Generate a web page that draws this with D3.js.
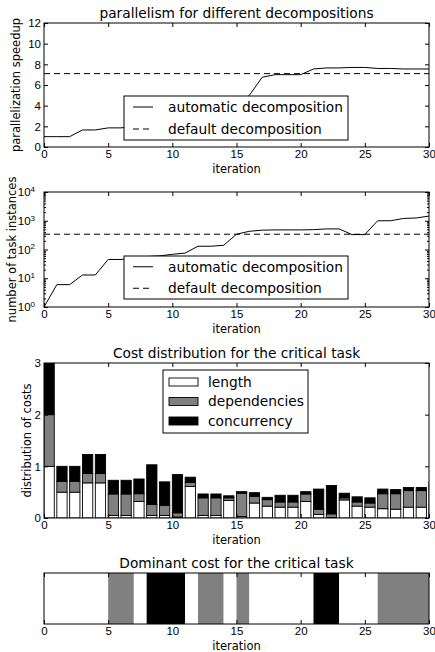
<!DOCTYPE html>
<html>
<head>
<meta charset="utf-8">
<script src="https://cdn.jsdelivr.net/npm/d3@7"></script>
<style>
  body { margin: 0; background: #fff; }
  svg { display: block; font-family: "DejaVu Sans", sans-serif; }
  .tick text { font-size: 11.5px; fill: #000; }
  .tick line { stroke: #000; }
  .title { font-size: 13.75px; }
  .label { font-size: 11.5px; }
  .legend text { font-size: 13.75px; }
</style>
</head>
<body>
<svg id="fig" width="435" height="652"></svg>
<script>
// ---- data ----
const iterations = [0, 1, 2, 3, 4, 5, 6, 7, 8, 9, 10, 11, 12, 13, 14, 15, 16, 17, 18, 19, 20, 21, 22, 23, 24, 25, 26, 27, 28, 29, 30];
const xTicks = [0, 5, 10, 15, 20, 25, 30];

const speedupAuto = [1.0, 1.0, 1.0, 1.65, 1.65, 1.85, 1.85, 2.0, 2.1, 2.2, 2.4, 2.6, 3.0, 3.1, 3.3, 4.0, 5.0, 6.75, 7.0, 7.0, 7.0, 7.55, 7.65, 7.65, 7.7, 7.7, 7.6, 7.6, 7.55, 7.55, 7.55];
const speedupDefault = 7.1;
const speedupTicks = [0, 2, 4, 6, 8, 10, 12];

const tasksAuto = [1, 6, 6, 13, 13, 45, 45, 50, 57, 60, 68, 75, 130, 130, 140, 340, 430, 470, 480, 480, 480, 490, 520, 520, 330, 330, 1000, 1000, 1200, 1250, 1450];
const tasksDefault = 340;
const tasksTicks = [1, 10, 100, 1000, 10000];

const costLength = [1.0, 0.50, 0.50, 0.68, 0.68, 0.05, 0.05, 0.32, 0.05, 0.05, 0.02, 0.61, 0.05, 0.05, 0.34, 0.03, 0.29, 0.23, 0.21, 0.21, 0.32, 0.07, 0.01, 0.35, 0.23, 0.21, 0.18, 0.17, 0.21, 0.21, 0.25];
const costDeps = [1.0, 0.21, 0.21, 0.18, 0.18, 0.415, 0.415, 0.15, 0.21, 0.195, 0.08, 0.08, 0.34, 0.34, 0.05, 0.45, 0.13, 0.125, 0.10, 0.10, 0.145, 0.10, 0.07, 0.04, 0.08, 0.08, 0.29, 0.30, 0.32, 0.32, 0.30];
const costConc = [1.0, 0.29, 0.29, 0.37, 0.37, 0.265, 0.265, 0.285, 0.77, 0.455, 0.74, 0.10, 0.075, 0.075, 0.04, 0.03, 0.07, 0.045, 0.13, 0.13, 0.045, 0.39, 0.55, 0.09, 0.10, 0.10, 0.09, 0.08, 0.06, 0.06, 0.15];
const costTicks = [0, 1, 2, 3];
const costKeys = ["length", "dependencies", "concurrency"];
const costColors = ["#ffffff", "#808080", "#000000"];

const dominant = ["length", "length", "length", "length", "length", "dependencies", "dependencies", "length",
  "concurrency", "concurrency", "concurrency", "length", "dependencies", "dependencies", "length", "dependencies",
  "length", "length", "length", "length", "length", "concurrency", "concurrency", "length", "length", "length",
  "dependencies", "dependencies", "dependencies", "dependencies"];

// ---- layout ----
const left = 44, right = 429, midX = (left + right) / 2;
const svg = d3.select("#fig");
const x = d3.scaleLinear().domain([0, 30]).range([left, right]);
const color = d3.scaleOrdinal().domain(costKeys).range(costColors);

function makePanel(id, top, bottom, title) {
  const g = svg.append("g");
  g.append("clipPath").attr("id", id)
    .append("rect").attr("x", left).attr("y", top).attr("width", right - left).attr("height", bottom - top);
  g.append("text").attr("class", "title").attr("x", midX).attr("y", top - 5)
    .attr("text-anchor", "middle").text(title);
  return g;
}

function xAxes(g, top, bottom) {
  g.append("g").attr("transform", `translate(0,${bottom})`)
    .call(d3.axisBottom(x).tickValues(xTicks).tickSizeInner(-4).tickSizeOuter(0).tickPadding(3))
    .call((a) => a.select(".domain").remove());
  g.append("g").attr("transform", `translate(0,${top})`)
    .call(d3.axisTop(x).tickValues(xTicks).tickSizeInner(-4).tickSizeOuter(0).tickFormat(""))
    .call((a) => a.select(".domain").remove());
  g.append("text").attr("class", "label").attr("x", midX).attr("y", bottom + 26)
    .attr("text-anchor", "middle").text("iteration");
}

function yAxes(g, y, ticks, fmt, size) {
  const s = size || 4;
  const l = g.append("g").attr("transform", `translate(${left},0)`)
    .call(d3.axisLeft(y).tickValues(ticks).tickSizeInner(-s).tickSizeOuter(0).tickPadding(3).tickFormat(fmt))
    .call((a) => a.select(".domain").remove());
  g.append("g").attr("transform", `translate(${right},0)`)
    .call(d3.axisRight(y).tickValues(ticks).tickSizeInner(-s).tickSizeOuter(0).tickFormat(""))
    .call((a) => a.select(".domain").remove());
  return l;
}

function frame(g, top, bottom) {
  g.append("rect").attr("x", left).attr("y", top).attr("width", right - left).attr("height", bottom - top)
    .attr("fill", "none").attr("stroke", "#000").attr("stroke-width", 1);
}

function yLabel(g, cx, top, bottom, text) {
  g.append("text").attr("class", "label")
    .attr("transform", `translate(${cx},${(top + bottom) / 2}) rotate(-90)`)
    .attr("dy", "0.35em").attr("text-anchor", "middle").text(text);
}

function lineLegend(g, x0, x1, y0, y1, rows) {
  const lg = g.append("g").attr("class", "legend");
  lg.append("rect").attr("x", x0).attr("y", y0).attr("width", x1 - x0).attr("height", y1 - y0)
    .attr("fill", "#fff").attr("stroke", "#000");
  const step = (y1 - y0) / rows.length;
  rows.forEach((r, i) => {
    const cy = y0 + step * (i + 0.5);
    lg.append("line").attr("x1", x0 + 9).attr("x2", x0 + 29).attr("y1", cy).attr("y2", cy)
      .attr("stroke", "#000").attr("stroke-dasharray", r.dash);
    lg.append("text").attr("x", x0 + 44).attr("y", cy).attr("dy", "0.35em").text(r.name);
  });
}

const legendRows = [{ name: "automatic decomposition", dash: null }, { name: "default decomposition", dash: "6,4" }];

// ---- panel 1: speedup ----
{
  const top = 23, bottom = 147;
  const g = makePanel("c1", top, bottom, "parallelism for different decompositions");
  const y = d3.scaleLinear().domain([0, 12]).range([bottom, top]);
  const line = d3.line().x((d, i) => x(iterations[i])).y((d) => y(d));
  const plot = g.append("g").attr("clip-path", "url(#c1)");
  plot.append("path").datum(speedupAuto).attr("d", line).attr("fill", "none").attr("stroke", "#000");
  plot.append("line").attr("x1", x(0)).attr("x2", x(30)).attr("y1", y(speedupDefault)).attr("y2", y(speedupDefault))
    .attr("stroke", "#000").attr("stroke-dasharray", "6,4");
  xAxes(g, top, bottom);
  yAxes(g, y, speedupTicks, d3.format("d"));
  frame(g, top, bottom);
  yLabel(g, 16, top, bottom, "parallelization speedup");
  lineLegend(g, 124, 348, 96, 140, legendRows);
}

// ---- panel 2: task instances (log) ----
{
  const top = 192, bottom = 307;
  const g = makePanel("c2", top, bottom, "");
  const y = d3.scaleLog().domain([1, 10000]).range([bottom, top]);
  const line = d3.line().x((d, i) => x(iterations[i])).y((d) => y(d));
  const plot = g.append("g").attr("clip-path", "url(#c2)");
  plot.append("path").datum(tasksAuto).attr("d", line).attr("fill", "none").attr("stroke", "#000");
  plot.append("line").attr("x1", x(0)).attr("x2", x(30)).attr("y1", y(tasksDefault)).attr("y2", y(tasksDefault))
    .attr("stroke", "#000").attr("stroke-dasharray", "6,4");
  xAxes(g, top, bottom);
  const minor = y.ticks().filter((v) => tasksTicks.indexOf(v) < 0);
  yAxes(g, y, minor, () => "", 2);
  const major = yAxes(g, y, tasksTicks, () => "");
  major.selectAll(".tick text").each(function (d) {
    const t = d3.select(this);
    t.text("10").attr("x", -9);
    t.append("tspan").attr("dy", "-0.55em").attr("font-size", "8px").text(Math.round(Math.log10(d)));
  });
  frame(g, top, bottom);
  yLabel(g, 12, top, bottom, "number of task instances");
  lineLegend(g, 124, 348, 256, 299, legendRows);
}

// ---- panel 3: cost distribution ----
{
  const top = 363, bottom = 518;
  const g = makePanel("c3", top, bottom, "Cost distribution for the critical task");
  const y = d3.scaleLinear().domain([0, 3]).range([bottom, top]);
  const table = iterations.map((it, i) => ({ it, length: costLength[i], dependencies: costDeps[i], concurrency: costConc[i] }));
  const series = d3.stack().keys(costKeys)(table);
  const plot = g.append("g").attr("clip-path", "url(#c3)");
  plot.selectAll("g.layer").data(series).join("g").attr("class", "layer")
    .attr("fill", (s) => color(s.key))
    .selectAll("rect").data((s) => s).join("rect")
    .attr("x", (d) => x(d.data.it))
    .attr("width", x(0.8) - x(0))
    .attr("y", (d) => y(d[1]))
    .attr("height", (d) => y(d[0]) - y(d[1]))
    .attr("stroke", "#000").attr("stroke-width", 0.9);
  xAxes(g, top, bottom);
  yAxes(g, y, costTicks, d3.format("d"));
  frame(g, top, bottom);
  yLabel(g, 27, top, bottom, "distribution of costs");

  const lg = g.append("g").attr("class", "legend");
  lg.append("rect").attr("x", 163).attr("y", 370).attr("width", 145).attr("height", 63)
    .attr("fill", "#fff").attr("stroke", "#000");
  costKeys.forEach((k, i) => {
    const cy = 382 + i * 19.5;
    lg.append("rect").attr("x", 169).attr("y", cy - 4).attr("width", 29).attr("height", 8)
      .attr("fill", color(k)).attr("stroke", "#000").attr("stroke-width", 0.9);
    lg.append("text").attr("x", 208).attr("y", cy).attr("dy", "0.35em").text(k);
  });
}

// ---- panel 4: dominant cost ----
{
  const top = 573, bottom = 624;
  const g = makePanel("c4", top, bottom, "Dominant cost for the critical task");
  // merge consecutive iterations with the same dominant cost into one block
  const runs = [];
  dominant.forEach((d, i) => {
    const last = runs[runs.length - 1];
    if (last && last.key === d) last.end = iterations[i + 1];
    else runs.push({ key: d, start: iterations[i], end: iterations[i + 1] });
  });
  const plot = g.append("g").attr("clip-path", "url(#c4)");
  plot.selectAll("rect").data(runs).join("rect")
    .attr("x", (d) => x(d.start))
    .attr("width", (d) => x(d.end) - x(d.start))
    .attr("y", top).attr("height", bottom - top)
    .attr("fill", (d) => color(d.key));
  xAxes(g, top, bottom);
  frame(g, top, bottom);
}
</script>
</body>
</html>
